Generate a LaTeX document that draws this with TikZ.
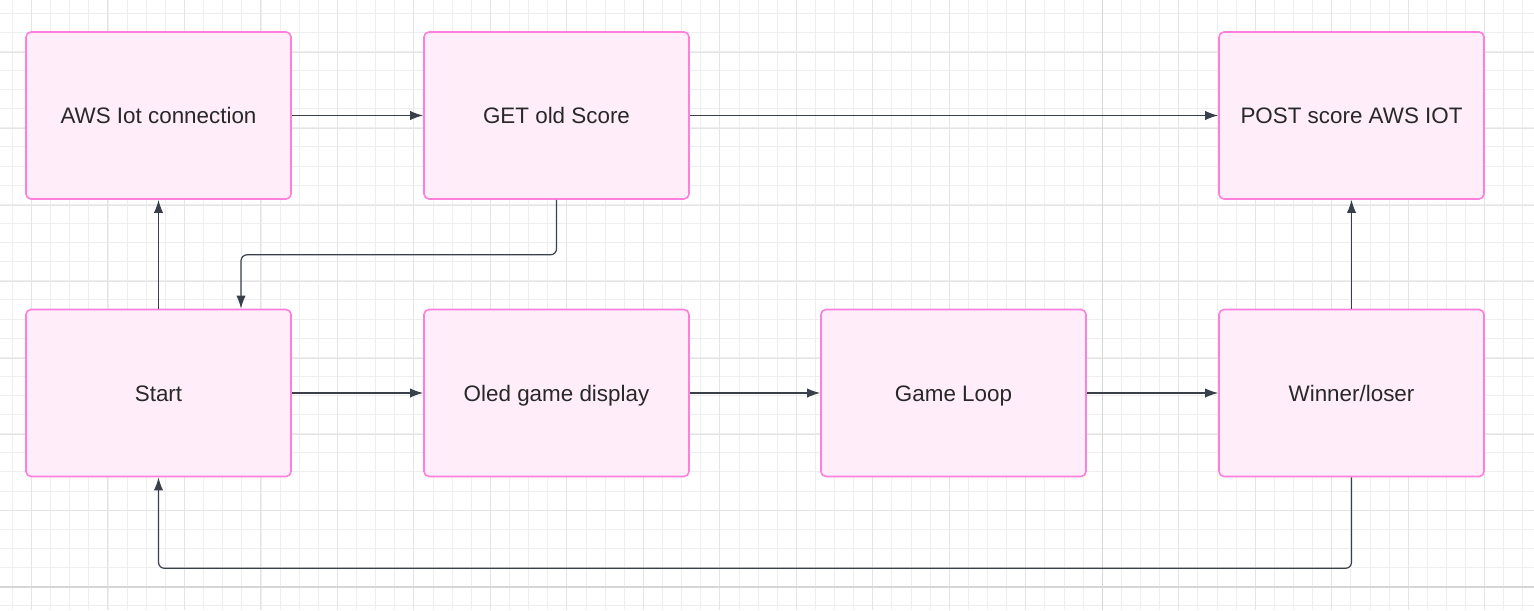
\documentclass[tikz,border=0pt]{standalone}
\usepackage{fontspec}
\setmainfont{Liberation Sans}
\usetikzlibrary{arrows.meta,calc}
\definecolor{gridminor}{RGB}{238,238,238}
\definecolor{gridmed}{RGB}{228,228,228}
\definecolor{gridmajor}{RGB}{214,214,214}
\definecolor{boxfill}{RGB}{255,238,250}
\definecolor{boxline}{RGB}{255,128,220}
\definecolor{arrowcol}{RGB}{58,64,74}
\definecolor{txt}{RGB}{40,40,40}
\tikzset{
  flowbox/.style={draw=boxline, fill=boxfill, line width=0.8pt, rounded corners=2.5pt,
    minimum width=132.5pt, minimum height=83.5pt, inner sep=0pt,
    text height=8pt, text depth=0pt,
    font=\fontsize{11.2pt}{13pt}\selectfont, text=txt},
  arr/.style={draw=arrowcol, line width=0.6pt, rounded corners=3pt,
    -{Latex[length=6.5pt,width=4.6pt]}},
  minorline/.style={draw=gridminor, line width=0.5pt},
  medline/.style={draw=gridmed, line width=0.5pt},
  majorline/.style={draw=gridmajor, line width=0.8pt}
}
\begin{document}
\begin{tikzpicture}[x=0.5pt,y=-0.5pt]
\useasboundingbox (0,0) rectangle (1534,610);
\fill[white] (0,0) rectangle (1534,610);
% grid
\foreach \i in {0,...,80} {\draw[minorline] ({12.46+\i*19.12},0) -- ({12.46+\i*19.12},610);}
\foreach \i in {0,...,32} {\draw[minorline] (0,{13.1+\i*19.12}) -- (1534,{13.1+\i*19.12});}
\foreach \i in {0,...,20} {\draw[medline] ({31.4+\i*76.48},0) -- ({31.4+\i*76.48},610);}
\foreach \i in {0,...,8} {\draw[medline] (0,{52.1+\i*76.48}) -- (1534,{52.1+\i*76.48});}
\draw[majorline] (1102.3,0) -- (1102.3,610);
\draw[majorline] (0,586.7) -- (1534,586.7);
% nodes
\node[flowbox] (aws) at (158.5,115.5) {AWS Iot connection};
\node[flowbox] (get) at (556.5,115.5) {GET old Score};
\node[flowbox] (post) at (1351.5,115.5) {POST score AWS IOT};
\node[flowbox] (start) at (158.5,393) {Start};
\node[flowbox] (oled) at (556.5,393) {Oled game display};
\node[flowbox] (loop) at (953.5,393) {Game Loop};
\node[flowbox] (win) at (1351.5,393) {Winner/loser};
% edges
\draw[arr] (aws) -- (get);
\draw[arr] (get) -- (post);
\draw[arr] (start) -- (aws);
\draw[arr] (get.south) -- ++(0,55) -| ($(start.north)+(82.5,0)$);
\draw[arr] (start) -- (oled);
\draw[arr] (oled) -- (loop);
\draw[arr] (loop) -- (win);
\draw[arr] (win) -- (post);
\draw[arr] (win.south) -- ++(0,91) -| (start.south);
\end{tikzpicture}
\end{document}
